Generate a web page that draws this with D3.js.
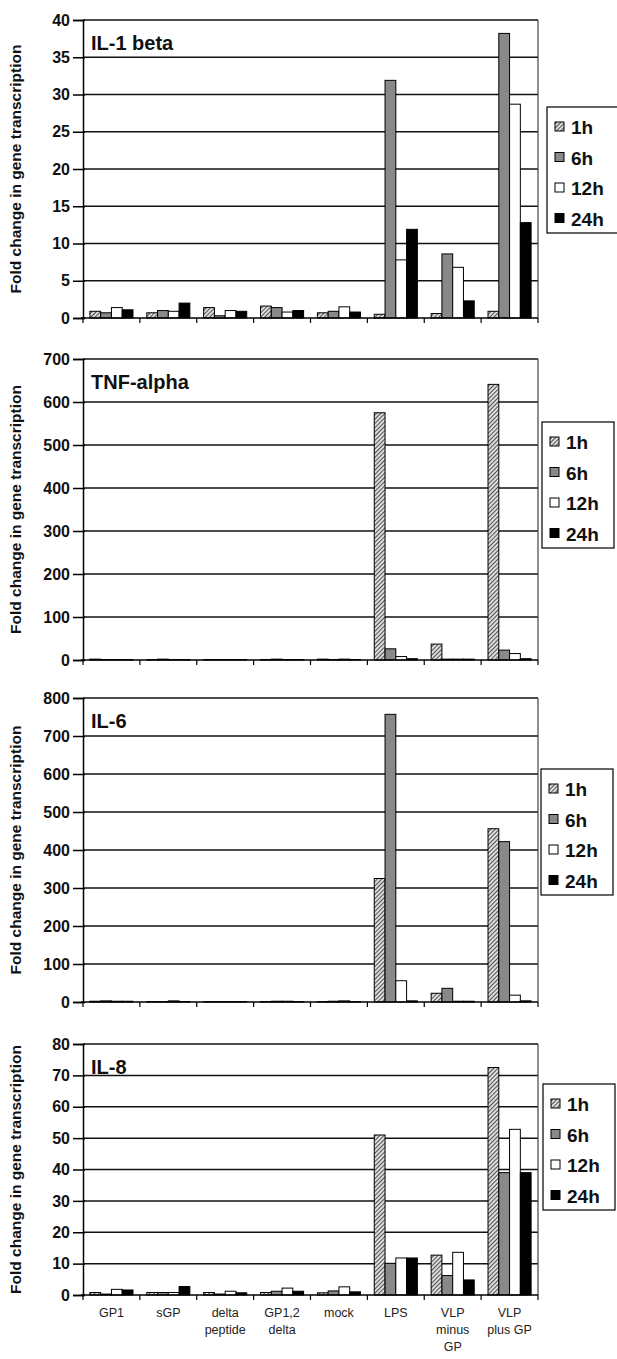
<!DOCTYPE html>
<html>
<head>
<meta charset="utf-8">
<script src="https://cdn.jsdelivr.net/npm/d3@7"></script>
<style>
  body { margin: 0; background: #fff; }
  svg { display: block; font-family: "Liberation Sans", Arial, sans-serif; }
</style>
</head>
<body>
<div id="chart"></div>
<script>
// stimuli on the x axis (label lines) and time points
const categories = ["GP1", "sGP", "delta peptide", "GP1,2 delta", "mock", "LPS", "VLP minus GP", "VLP plus GP"];
const categoryLines = [["GP1"], ["sGP"], ["delta", "peptide"], ["GP1,2", "delta"], ["mock"], ["LPS"], ["VLP", "minus", "GP"], ["VLP", "plus GP"]];
const timepoints = ["1h", "6h", "12h", "24h"];

// fold change, one row per time point (1h, 6h, 12h, 24h), one value per stimulus
const il1beta = [
  [0.9, 0.7, 1.4, 1.6, 0.7, 0.5, 0.6, 0.9],
  [0.7, 1.0, 0.3, 1.4, 0.9, 31.9, 8.6, 38.2],
  [1.4, 0.9, 1.0, 0.8, 1.5, 7.8, 6.8, 28.7],
  [1.1, 2.0, 0.9, 1.0, 0.8, 11.9, 2.3, 12.8]
];
const tnfalpha = [
  [2, 1, 1, 1, 2, 575, 37, 641],
  [1, 2, 1, 2, 1, 26, 2, 23],
  [1, 1, 1, 1, 2, 8, 2, 15],
  [1, 1, 1, 1, 1, 3, 2, 3]
];
const il6 = [
  [2, 1, 1, 1, 1, 325, 23, 456],
  [3, 1, 1, 2, 2, 757, 36, 422],
  [2, 3, 1, 2, 3, 56, 2, 18],
  [2, 1, 1, 1, 1, 3, 2, 3]
];
const il8 = [
  [0.8, 0.8, 0.8, 0.8, 0.7, 51.0, 12.7, 72.5],
  [0.3, 0.8, 0.3, 1.2, 1.3, 10.1, 6.2, 39.0],
  [1.8, 0.8, 1.2, 2.2, 2.6, 11.8, 13.6, 52.8],
  [1.6, 2.7, 0.7, 1.2, 1.0, 11.8, 4.8, 39.0]
];

const yMaxes = [40, 700, 800, 80];
const yTicks = [
  [0, 5, 10, 15, 20, 25, 30, 35, 40],
  [0, 100, 200, 300, 400, 500, 600, 700],
  [0, 100, 200, 300, 400, 500, 600, 700, 800],
  [0, 10, 20, 30, 40, 50, 60, 70, 80]
];
const titles = ["IL-1 beta", "TNF-alpha", "IL-6", "IL-8"];
const panelData = [il1beta, tnfalpha, il6, il8];

// layout of each panel (plot top / bottom and legend box)
const layout = [
  { top: 20, bottom: 318, legend: [547, 107] },
  { top: 359, bottom: 660, legend: [542, 422] },
  { top: 698, bottom: 1002, legend: [541, 769] },
  { top: 1044, bottom: 1295, legend: [543, 1084] }
];
const left = 83, right = 538;

const fills = ["url(#hatch)", "#898989", "#ffffff", "#000000"];

const svg = d3.select("#chart").append("svg")
  .attr("width", 617)
  .attr("height", 1359);

const pattern = svg.append("defs").append("pattern")
  .attr("id", "hatch")
  .attr("patternUnits", "userSpaceOnUse")
  .attr("width", 3)
  .attr("height", 3)
  .attr("patternTransform", "rotate(45)");
pattern.append("rect").attr("width", 3).attr("height", 3).attr("fill", "#dcdcdc");
pattern.append("line")
  .attr("x1", 0).attr("y1", 0).attr("x2", 0).attr("y2", 3)
  .attr("stroke", "#222").attr("stroke-width", 1.5);

var x = d3.scaleBand()
  .domain(categories)
  .range([left, right])
  .paddingInner(0)
  .paddingOuter(0);

var x1 = d3.scaleBand()
  .domain(timepoints)
  .range([0, x.bandwidth()])
  .paddingInner(0)
  .paddingOuter(0.64);

panelData.forEach(function (rows, p) {
  var L = layout[p];
  var y = d3.scaleLinear()
    .domain([0, yMaxes[p]])
    .range([L.bottom, L.top]);

  var g = svg.append("g");

  // gridlines
  g.selectAll("line.grid")
    .data(yTicks[p].slice(1))
    .enter()
    .append("line")
    .attr("x1", left).attr("x2", right)
    .attr("y1", d => y(d)).attr("y2", d => y(d))
    .attr("stroke", "#111")
    .attr("stroke-width", 1.5);

  // plot frame right
  g.append("line")
    .attr("x1", right).attr("x2", right)
    .attr("y1", L.top).attr("y2", L.bottom)
    .attr("stroke", "#444").attr("stroke-width", 1.2);

  // bars
  var series = timepoints.map((t, i) => rows[i].map((v, c) => ({ t: t, i: i, c: categories[c], v: v })));
  g.selectAll("g.series")
    .data(series)
    .enter()
    .append("g")
    .attr("fill", (d, i) => fills[i])
    .selectAll("rect")
    .data(d => d)
    .enter()
    .append("rect")
    .attr("x", d => x(d.c) + x1(d.t))
    .attr("y", d => y(d.v))
    .attr("width", x1.bandwidth())
    .attr("height", d => y(0) - y(d.v))
    .attr("stroke", "#000")
    .attr("stroke-width", 1);

  // y axis
  var yAxis = g.append("g")
    .attr("transform", "translate(" + left + ",0)")
    .call(d3.axisLeft(y).tickValues(yTicks[p]).tickSize(10).tickPadding(4));
  yAxis.select(".domain").attr("stroke", "#000").attr("stroke-width", 1.5);
  yAxis.selectAll(".tick line").attr("stroke", "#000").attr("stroke-width", 1.5).attr("x2", -10).attr("x1", 2);
  yAxis.selectAll(".tick text")
    .attr("x", -13)
    .style("font-size", "16px")
    .style("font-weight", "bold")
    .attr("fill", "#111");

  // x axis with ticks at the category boundaries
  var xAxis = g.append("g")
    .attr("transform", "translate(0," + L.bottom + ")");
  xAxis.append("line")
    .attr("x1", left - 2).attr("x2", right)
    .attr("stroke", "#000").attr("stroke-width", 1.5);
  xAxis.selectAll("line.bnd")
    .data(categories.map(c => x(c)).concat([right]))
    .enter()
    .append("line")
    .attr("x1", d => d).attr("x2", d => d)
    .attr("y1", 0).attr("y2", 5)
    .attr("stroke", "#000").attr("stroke-width", 1.2);

  if (p === 3) {
    var labels = xAxis.selectAll("text.cat")
      .data(categories)
      .enter()
      .append("text")
      .attr("text-anchor", "middle")
      .attr("x", d => x(d) + x.bandwidth() / 2)
      .attr("y", 22)
      .style("font-family", "'Liberation Sans Narrow', 'Arial Narrow', 'Liberation Sans', sans-serif")
      .style("font-size", "12.5px")
      .attr("fill", "#222");
    labels.each(function (d, i) {
      d3.select(this).selectAll("tspan")
        .data(categoryLines[i])
        .enter()
        .append("tspan")
        .attr("x", x(d) + x.bandwidth() / 2)
        .attr("dy", (t, k) => k === 0 ? 0 : 17)
        .text(t => t);
    });
  }

  // panel title
  g.append("text")
    .attr("x", left + 8)
    .attr("y", L.top + 30)
    .style("font-size", "20px")
    .style("font-weight", "bold")
    .attr("fill", "#111")
    .text(titles[p]);

  // y label
  g.append("text")
    .attr("transform", "translate(21," + (L.top + L.bottom) / 2 + ") rotate(-90)")
    .attr("text-anchor", "middle")
    .style("font-size", "15.5px")
    .style("font-weight", "bold")
    .attr("fill", "#111")
    .text("Fold change in gene transcription");

  // legend
  var lg = g.append("g")
    .attr("transform", "translate(" + L.legend[0] + "," + L.legend[1] + ")");
  lg.append("rect")
    .attr("width", 72).attr("height", 126)
    .attr("fill", "#fff")
    .attr("stroke", "#000").attr("stroke-width", 1.2);
  var items = lg.selectAll("g.item")
    .data(timepoints)
    .enter()
    .append("g")
    .attr("transform", (d, i) => "translate(0," + (20 + i * 30.5) + ")");
  items.append("rect")
    .attr("x", 8).attr("y", -5)
    .attr("width", 9).attr("height", 9)
    .attr("fill", (d, i) => fills[i])
    .attr("stroke", "#000").attr("stroke-width", 1);
  items.append("text")
    .attr("x", 24).attr("y", 7)
    .style("font-size", "19px")
    .style("font-weight", "bold")
    .attr("fill", "#111")
    .text(d => d);
});
</script>
</body>
</html>
